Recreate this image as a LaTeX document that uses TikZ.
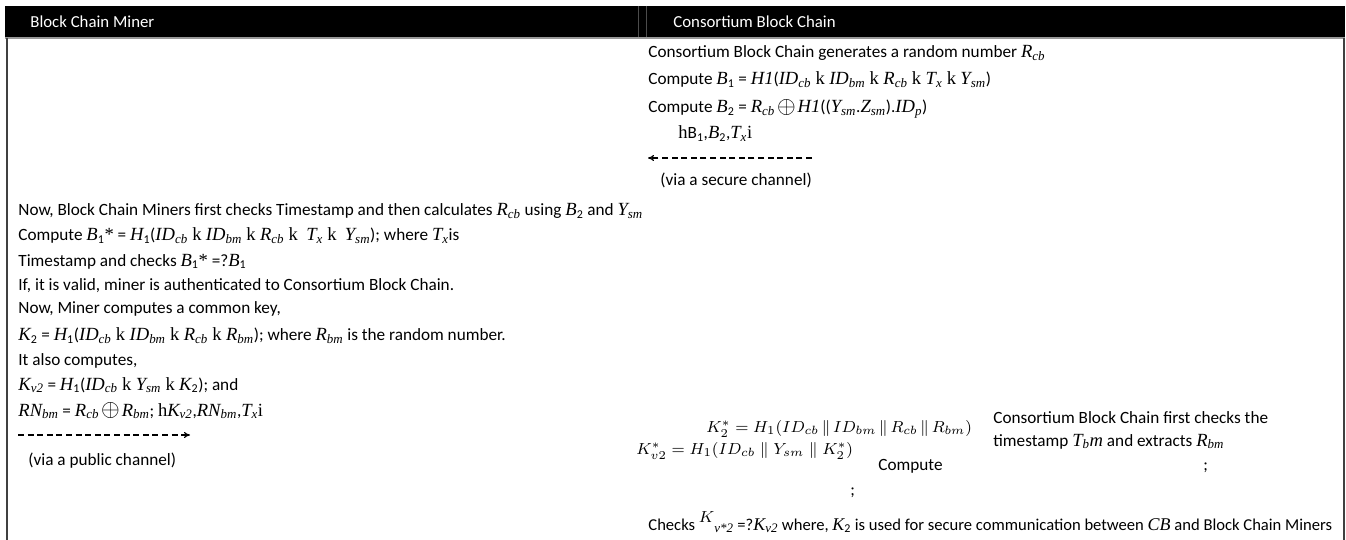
\documentclass[tikz,border=0pt]{standalone}
\usepackage[no-math]{fontspec}
\setmainfont{Carlito}
\newfontfamily\ser[Scale=1.08]{Liberation Serif}
\usetikzlibrary{arrows.meta}
\newcommand{\iv}[1]{{\ser\itshape #1}}
\newcommand{\lo}[1]{\raisebox{-0.35ex}{\fontsize{6pt}{6pt}\selectfont #1}\kern0.3pt\relax}
\newcommand{\ilo}[1]{\lo{\ser\itshape #1}}
\newcommand{\kk}{\kern2.2pt{\ser k}\kern2.2pt\relax}
\newcommand{\opl}{\kern1pt\raisebox{-0.1ex}{\large$\oplus$}\kern1pt\relax}
\newcommand{\pl}{\mskip3mu\mathord{\parallel}\mskip3mu}
\begin{document}
\begin{tikzpicture}[x=0.5pt,y=-0.5pt,
  txt/.style={anchor=base west,inner sep=0pt,font=\fontsize{8.6pt}{9pt}\selectfont},
  stxt/.style={anchor=base west,inner sep=0pt,font=\fontsize{8.3pt}{9pt}\selectfont},
  hdr/.style={anchor=base west,inner sep=0pt,text=white,font=\fontsize{8.4pt}{9pt}\selectfont},
  eqn/.style={anchor=base west,inner sep=0pt,font=\fontsize{8.5pt}{9pt}\selectfont},
  msg/.style={line width=0.6pt,dash pattern=on 3pt off 1.8pt,-{To[length=3pt,width=3pt]}},
  frame/.style={line width=1pt,black!75}]
\useasboundingbox (0,0) rectangle (1346,540);
% header
\fill[black] (5,6) rectangle (1345,38);
\draw[black!70,line width=0.4pt] (638,6) -- (638,38) (646,6) -- (646,38);
\draw[black!40,line width=0.6pt] (5,38) -- (1345,38);
\draw[frame] (7,38) -- (7,540);
\draw[frame] (1344,38) -- (1344,540);
\node[hdr] (h1) at (30,28) {Block Chain Miner};
\node[hdr] (h2) at (673,28) {Consortium Block Chain};
% right column top
\node[txt] (r1) at (648,58) {Consortium Block Chain generates a random number \iv{R}\ilo{cb}};
\node[txt] (r2) at (648,85) {Compute \iv{B}\lo{1} = \iv{H}\iv{1}(\iv{ID}\ilo{cb}\kk\iv{ID}\ilo{bm}\kk\iv{R}\ilo{cb}\kk\iv{T}\ilo{x}\kk\iv{Y}\ilo{sm})};
\node[txt] (r3) at (648,113) {Compute \iv{B}\lo{2} = \iv{R}\ilo{cb}\opl\iv{H}\iv{1}((\iv{Y}\ilo{sm}.\iv{Z}\ilo{sm}).\iv{ID}\ilo{p})};
\node[txt] (r4) at (678,139) {{\ser h}B\lo{1},\iv{B}\lo{2},\iv{T}\ilo{x}{\ser i}};
\coordinate (a1s) at (812,158);
\coordinate (a1e) at (648,158);
\draw[msg] (a1s) -- (a1e);
\node[txt] (r5) at (660,186) {(via a secure channel)};
% left column
\node[txt] (l1) at (18,216) {Now, Block Chain Miners first checks Timestamp and then calculates \iv{R}\ilo{cb} using \iv{B}\lo{2} and \iv{Y}\ilo{sm}};
\node[txt] (l2) at (18,241) {Compute \iv{B}\lo{1}{\ser*} = \iv{H}\lo{1}(\iv{ID}\ilo{cb}\kk\iv{ID}\ilo{bm}\kk\iv{R}\ilo{cb}\kk\ \iv{T}\ilo{x}\kk\ \iv{Y}\ilo{sm}); where \iv{T}\ilo{x}is};
\node[txt] (l3) at (18,266) {Timestamp and checks \iv{B}\lo{1}{\ser*} =?\iv{B}\lo{1}};
\node[txt] (l4) at (18,291) {If, it is valid, miner is authenticated to Consortium Block Chain.};
\node[txt] (l5) at (18,314) {Now, Miner computes a common key,};
\node[txt] (l6) at (18,341) {\iv{K}\lo{2} = \iv{H}\lo{1}(\iv{ID}\ilo{cb}\kk\iv{ID}\ilo{bm}\kk\iv{R}\ilo{cb}\kk\iv{R}\ilo{bm}); where \iv{R}\ilo{bm} is the random number.};
\node[txt] (l7) at (18,365) {It also computes,};
\node[txt] (l8) at (18,390) {\iv{K}\ilo{v2} = \iv{H}\lo{1}(\iv{ID}\ilo{cb}\kk\iv{Y}\ilo{sm}\kk\iv{K}\lo{2}); and};
\node[txt] (l9) at (18,416) {\iv{RN}\ilo{bm} = \iv{R}\ilo{cb}\opl\iv{R}\ilo{bm}; {\ser h}\iv{K}\ilo{v2},\iv{RN}\ilo{bm},\iv{T}\ilo{x}{\ser i}};
\coordinate (a2s) at (18,435);
\coordinate (a2e) at (190,435);
\draw[msg] (a2s) -- (a2e);
\node[txt] (l10) at (28,465) {(via a public channel)};
% right column bottom
\node[eqn] (m1) at (706,432) {$K_2^* = H_1(ID_{cb} \pl ID_{bm} \pl R_{cb} \pl R_{bm})$};
\node[eqn] (m2) at (636,454) {$K_{v2}^* = H_1(ID_{cb} \parallel Y_{sm} \parallel K_2^*)$};
\node[txt] (r6) at (993,423) {Consortium Block Chain first checks the};
\node[txt] (r7) at (993,446) {timestamp \iv{T}\ilo{b}\iv{m} and extracts \iv{R}\ilo{bm}};
\node[txt] (r8) at (878,470) {Compute};
\node[txt] (r9) at (1203,470) {;};
\node[txt] (r10) at (850,495) {;};
\node[stxt] (r11) at (648,530) {Checks \raisebox{0.9ex}{$K$}\lo{\ser\itshape v*2} =?\iv{K}\ilo{v2} where, \iv{K}\lo{2} is used for secure communication between \iv{CB} and Block Chain Miners};
\end{tikzpicture}
\end{document}
